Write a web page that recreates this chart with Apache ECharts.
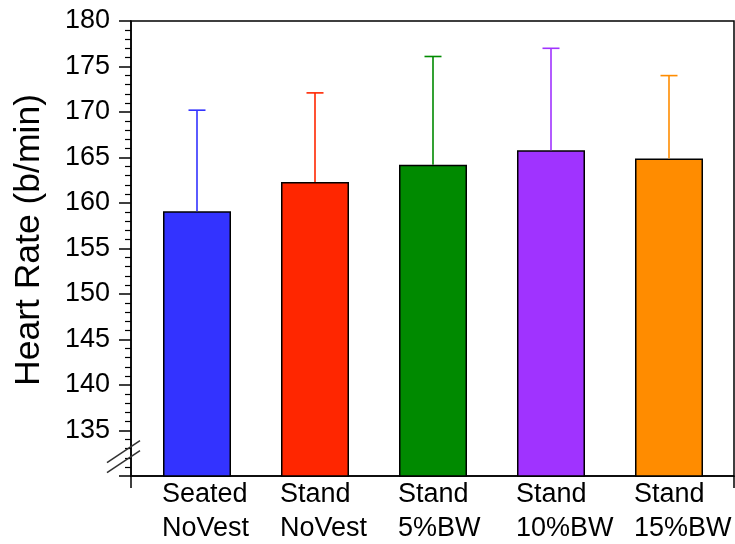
<!DOCTYPE html>
<html>
<head>
<meta charset="utf-8">
<script src="https://cdn.jsdelivr.net/npm/echarts@6/dist/echarts.min.js"></script>
<style>
html,body{margin:0;padding:0;background:#fff;}
#main{width:735px;height:544px;}
</style>
</head>
<body>
<div id="main"></div>
<script>
// ---- data ----
const categories = ['Seated\nNoVest', 'Stand\nNoVest', 'Stand\n5%BW', 'Stand\n10%BW', 'Stand\n15%BW'];
const meanHR = [159.1, 162.3, 164.2, 165.8, 164.9];
const sdHR = [11.1, 9.8, 11.9, 11.2, 9.1];
const barColors = ['#3333ff', '#ff2600', '#008a00', '#a033ff', '#ff8c00'];
const yMin = 130, yMax = 180, yStep = 5;

const FONT = "'Liberation Sans', Arial, Helvetica, sans-serif";
const chart = echarts.init(document.getElementById('main'), null, {renderer: 'canvas'});

const barData = meanHR.map((v, i) => ({
  value: v,
  itemStyle: {color: barColors[i], borderColor: '#000', borderWidth: 1.5}
}));
const errData = meanHR.map((v, i) => [i, v, v + sdHR[i]]);

const option = {
  backgroundColor: '#fff',
  animation: false,
  grid: [
    {left: 131, right: 1, top: 21, bottom: 68, show: true, borderColor: '#000', borderWidth: 1.5, backgroundColor: 'transparent', outerBoundsMode: 'none', containLabel: false},
    {left: 138, right: 7, top: 21, bottom: 68, outerBoundsMode: 'none', containLabel: false}
  ],
  xAxis: [
    {
      gridIndex: 0, type: 'value', min: 0, max: 1, interval: 1,
      axisLine: {show: true, lineStyle: {color: '#000', width: 1.5}},
      axisTick: {show: true, length: 12, lineStyle: {color: '#000', width: 1.5}},
      axisLabel: {show: false}, splitLine: {show: false}
    },
    {
      gridIndex: 1, type: 'category', data: categories,
      axisLine: {show: false}, axisTick: {show: false}, splitLine: {show: false},
      axisLabel: {
        interval: 0, margin: 2, align: 'center',
        formatter: v => v.split('\n').map(s => '{a|' + s + '}').join('\n'),
        rich: {a: {width: 70, align: 'left', fontSize: 27, lineHeight: 34, color: '#000', fontFamily: FONT}}
      }
    }
  ],
  yAxis: [
    {
      gridIndex: 0, type: 'value', min: yMin, max: yMax, interval: yStep,
      name: 'Heart Rate (b/min)', nameLocation: 'middle', nameGap: 84, nameRotate: 90,
      nameTextStyle: {fontSize: 35.5, color: '#000', fontFamily: FONT, padding: [0, 0, 0, 17]},
      axisLine: {show: true, lineStyle: {color: '#000', width: 1.5}},
      axisTick: {show: true, length: 12, lineStyle: {color: '#000', width: 1.5}},
      minorTick: {show: true, splitNumber: 5, length: 6, lineStyle: {color: '#000', width: 1.2}},
      axisLabel: {showMinLabel: false, margin: 21, fontSize: 27, color: '#000', fontFamily: FONT},
      splitLine: {show: false}, minorSplitLine: {show: false}
    },
    {
      gridIndex: 1, type: 'value', min: yMin, max: yMax, interval: yStep, show: false,
      splitLine: {show: false}
    }
  ],
  series: [
    {
      type: 'bar', xAxisIndex: 1, yAxisIndex: 1, data: barData, barWidth: 68, z: 2
    },
    {
      type: 'custom', xAxisIndex: 1, yAxisIndex: 1, data: errData, z: 3,
      renderItem: function (params, api) {
        const i = api.value(0);
        const base = api.coord([i, api.value(1)]);
        const top = api.coord([i, api.value(2)]);
        const half = 8.5;
        const c = barColors[i];
        const st = {stroke: c, lineWidth: 1.6};
        return {
          type: 'group',
          children: [
            {type: 'line', shape: {x1: base[0], y1: base[1], x2: top[0], y2: top[1]}, style: st},
            {type: 'line', shape: {x1: top[0] - half, y1: top[1], x2: top[0] + half, y2: top[1]}, style: st}
          ]
        };
      }
    }
  ]
};
chart.setOption(option);

// axis break marks anchored at the axis origin
const o = chart.convertToPixel({xAxisIndex: 0, yAxisIndex: 0}, [0, yMin]);
chart.setOption({
  graphic: [
    {type: 'line', shape: {x1: o[0] - 24, y1: o[1] - 13.3, x2: o[0] + 9, y2: o[1] - 35.3}, style: {stroke: '#333', lineWidth: 1.5}, z: 10},
    {type: 'line', shape: {x1: o[0] - 24, y1: o[1] - 3.3, x2: o[0] + 9, y2: o[1] - 25.3}, style: {stroke: '#333', lineWidth: 1.5}, z: 10}
  ]
});
</script>
</body>
</html>
